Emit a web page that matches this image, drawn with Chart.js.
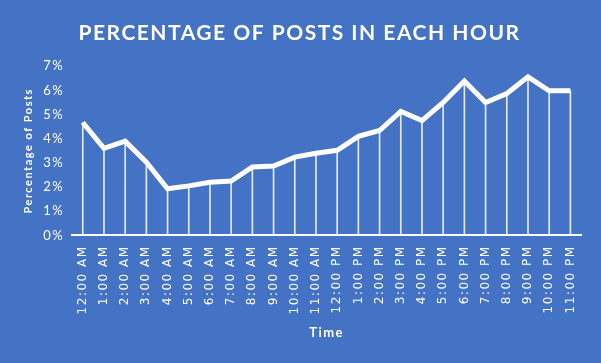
<!DOCTYPE html>
<html>
<head>
<meta charset="utf-8">
<script src="https://cdn.jsdelivr.net/npm/chart.js@4"></script>
<style>
  html, body { margin: 0; padding: 0; background: #4472C4; }
  #wrap { width: 601px; height: 363px; }
</style>
</head>
<body>
<div id="wrap"><canvas id="chart" width="601" height="363"></canvas></div>
<script>
var hours = ["12:00 AM","1:00 AM","2:00 AM","3:00 AM","4:00 AM","5:00 AM","6:00 AM","7:00 AM",
             "8:00 AM","9:00 AM","10:00 AM","11:00 AM","12:00 PM","1:00 PM","2:00 PM","3:00 PM",
             "4:00 PM","5:00 PM","6:00 PM","7:00 PM","8:00 PM","9:00 PM","10:00 PM","11:00 PM"];
var postPct = [4.67, 3.6, 3.9, 3.03, 1.93, 2.05, 2.2, 2.25,
               2.83, 2.87, 3.24, 3.4, 3.52, 4.1, 4.34, 5.13,
               4.75, 5.5, 6.39, 5.5, 5.87, 6.56, 5.98, 5.98];

var white = "#ffffff";

// the office-style text is a bit spaced out
var spacing = {
  id: 'spacing',
  beforeUpdate: function(chart) { chart.ctx.letterSpacing = '1.5px'; },
  beforeDraw: function(chart) { chart.ctx.letterSpacing = '1.5px'; }
};

var chart = new Chart(document.getElementById("chart"), {
    type: 'line',
    data: {
      labels: hours,
      datasets: [
        {
          type: 'line',
          label: "Percentage of Posts",
          data: postPct,
          borderColor: white,
          borderWidth: 5,
          pointRadius: 0,
          tension: 0,
          order: 0
        },
        {
          type: 'bar',
          label: "drop",
          data: postPct,
          backgroundColor: "rgba(255,255,255,0.85)",
          barThickness: 1,
          order: 1
        }
      ]
    },
    options: {
      responsive: false,
      animation: false,
      layout: { padding: { left: 18, right: 20, top: 21, bottom: 18 } },
      plugins: {
        legend: { display: false },
        tooltip: { enabled: false },
        title: {
          display: true,
          text: 'PERCENTAGE OF POSTS IN EACH HOUR',
          color: white,
          font: { family: 'Lato', size: 21, weight: 'bold' },
          padding: { top: 0, bottom: 20 }
        }
      },
      scales: {
        x: {
          offset: true,
          grid: { display: false, drawTicks: false },
          border: { display: true, color: white, width: 2 },
          ticks: {
            color: white,
            autoSkip: false,
            maxRotation: 90,
            minRotation: 90,
            padding: 10,
            font: { family: 'DejaVu Sans', size: 12 }
          },
          title: {
            display: true,
            text: 'Time',
            color: white,
            font: { family: 'Lato', size: 13, weight: 'bold' },
            padding: { top: 1 }
          }
        },
        y: {
          min: 0,
          max: 7,
          grid: { display: false, drawTicks: false },
          border: { display: false },
          ticks: {
            stepSize: 1,
            color: white,
            padding: 8,
            font: { family: 'Lato', size: 13 },
            callback: function(v) { return v + '%'; }
          },
          title: {
            display: true,
            text: 'Percentage of Posts',
            color: white,
            font: { family: 'Lato', size: 11, weight: 'bold' },
            padding: { bottom: 0 }
          }
        }
      }
    },
    plugins: [spacing]
});
</script>
</body>
</html>
